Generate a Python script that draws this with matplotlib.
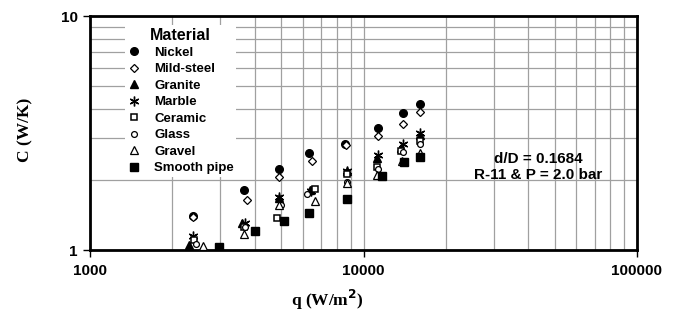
import matplotlib
matplotlib.use("Agg")
import matplotlib.pyplot as plt
from matplotlib.ticker import LogLocator, NullFormatter, FixedLocator, FixedFormatter

materials = ["Nickel", "Mild-steel", "Granite", "Marble", "Ceramic", "Glass", "Gravel", "Smooth pipe"]

q_nickel = [2380, 3650, 4910, 6320, 8550, 11280, 13940, 16110]
c_nickel = [1.40, 1.80, 2.22, 2.60, 2.84, 3.32, 3.85, 4.21]

q_mild = [2380, 3750, 4910, 6480, 8600, 11280, 13940, 16110]
c_mild = [1.38, 1.64, 2.05, 2.40, 2.82, 3.07, 3.45, 3.89]

q_granite = [2300, 3600, 4910, 6400, 8700, 11200, 13700, 16110]
c_granite = [1.05, 1.30, 1.67, 1.80, 2.18, 2.47, 2.73, 3.10]

q_marble = [2380, 3700, 4910, 6450, 8700, 11280, 13940, 16110]
c_marble = [1.15, 1.30, 1.68, 1.78, 2.17, 2.55, 2.85, 3.16]

q_ceramic = [2400, 3650, 4830, 6650, 8700, 11200, 13700, 16110]
c_ceramic = [1.10, 1.25, 1.37, 1.82, 2.11, 2.26, 2.65, 2.92]

q_glass = [2450, 3700, 5000, 6220, 8700, 11300, 14000, 16110]
c_glass = [1.06, 1.26, 1.55, 1.74, 1.96, 2.22, 2.62, 2.85]

q_gravel = [2590, 3650, 4910, 6650, 8700, 11200, 13800, 16110]
c_gravel = [1.04, 1.17, 1.55, 1.62, 1.93, 2.09, 2.40, 2.60]

q_smooth = [2960, 4010, 5120, 6320, 8700, 11670, 14100, 16110]
c_smooth = [1.03, 1.21, 1.33, 1.44, 1.65, 2.07, 2.38, 2.50]

x_ticks = [1000, 10000, 100000]
x_ticklabels = ["1000", "10000", "100000"]
y_ticks = [1, 10]
y_ticklabels = ["1", "10"]

series = [
    (q_nickel, c_nickel, dict(marker="o", mfc="black", mec="black", ms=5.5)),
    (q_mild, c_mild, dict(marker="D", mfc="white", mec="black", ms=4.5, mew=0.9)),
    (q_granite, c_granite, dict(marker="^", mfc="black", mec="black", ms=5.5)),
    (q_marble, c_marble, dict(marker=(6, 2, 0), mfc="black", mec="black", ms=7, mew=1.0)),
    (q_ceramic, c_ceramic, dict(marker="s", mfc="white", mec="black", ms=4.5, mew=1.1)),
    (q_glass, c_glass, dict(marker="o", mfc="white", mec="black", ms=4.2, mew=0.9)),
    (q_gravel, c_gravel, dict(marker="^", mfc="white", mec="black", ms=5.2, mew=0.9)),
    (q_smooth, c_smooth, dict(marker="s", mfc="black", mec="black", ms=5.2)),
]

fig = plt.figure(figsize=(6.74, 3.18), dpi=100)
ax = fig.add_axes([90/674, 1-250/318, 547/674, 234/318])
ax.set_xscale("log")
ax.set_yscale("log")
ax.set_xlim(1000, 100000)
ax.set_ylim(1, 10)

ax.grid(True, which="both", color="#a0a0a0", linewidth=0.9)
ax.set_axisbelow(True)

for (qs, cs, st), name in zip(series, materials):
    ax.plot(qs, cs, linestyle="none", label=name, zorder=3, **st)

ax.xaxis.set_major_locator(FixedLocator(x_ticks))
ax.xaxis.set_major_formatter(FixedFormatter(x_ticklabels))
ax.yaxis.set_major_locator(FixedLocator(y_ticks))
ax.yaxis.set_major_formatter(FixedFormatter(y_ticklabels))
ax.xaxis.set_minor_locator(LogLocator(base=10, subs=range(2, 10)))
ax.yaxis.set_minor_locator(LogLocator(base=10, subs=range(2, 10)))
ax.xaxis.set_minor_formatter(NullFormatter())
ax.yaxis.set_minor_formatter(NullFormatter())
ax.tick_params(which="minor", length=0)
ax.tick_params(which="major", direction="out", length=5, width=1, color="black")
ax.tick_params(axis="x", which="major", pad=5)
ax.tick_params(axis="y", which="major", pad=4)
for lab in ax.get_xticklabels() + ax.get_yticklabels():
    lab.set_fontfamily("Liberation Sans")
    lab.set_fontweight("bold")
    lab.set_fontsize(11)

for sp in ax.spines.values():
    sp.set_linewidth(2)
    sp.set_color("black")

leg = ax.legend(loc="upper left", bbox_to_anchor=(0.052, 0.99), title="Material",
                prop=dict(family="Liberation Sans", weight="bold", size=9.5),
                frameon=True, framealpha=1, facecolor="white", edgecolor="none",
                handlelength=1.0, handletextpad=1.0, labelspacing=0.32,
                borderpad=0.2, fancybox=False, numpoints=1)
leg.get_title().set_fontfamily("Liberation Sans")
leg.get_title().set_fontweight("bold")
leg.get_title().set_fontsize(11.5)
leg.set_zorder(2)

ax.text(0.82, 0.355, "d/D = 0.1684\nR-11 & P = 2.0 bar", transform=ax.transAxes,
        ha="center", va="center", fontfamily="Liberation Sans", fontweight="bold",
        fontsize=11, linespacing=1.2)

fig.text(327/674, 1-300/318, "q (W/m$^\\mathbf{2}$)", ha="center", va="center",
         fontfamily="Liberation Serif", fontweight="bold", fontsize=12.5)
fig.text(25/674, 1-130/318, "C (W/K)", ha="center", va="center", rotation=90,
         fontfamily="Liberation Serif", fontweight="bold", fontsize=12.5)

fig.savefig("out.png", dpi=100)
